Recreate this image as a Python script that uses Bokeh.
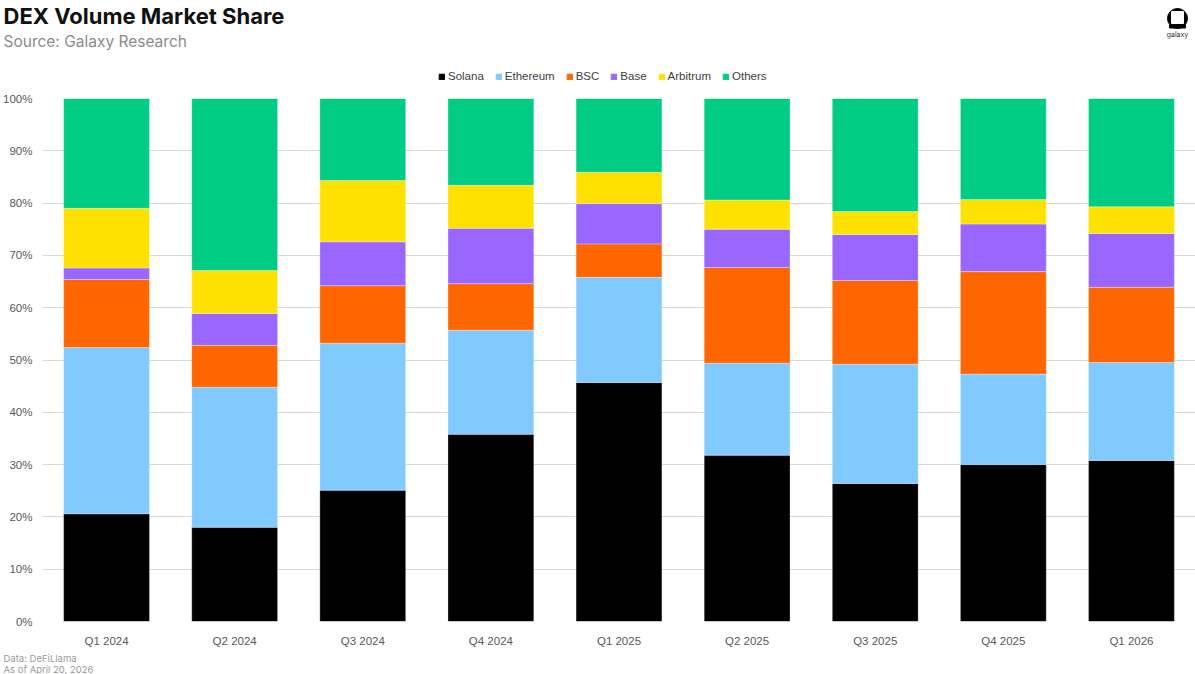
from bokeh.plotting import figure
from bokeh.layouts import column, row
from bokeh.models import Legend, LegendItem, Label, NumeralTickFormatter, FixedTicker, Range1d
from bokeh.embed import file_html
from bokeh.resources import INLINE

quarters = ["Q1 2024", "Q2 2024", "Q3 2024", "Q4 2024", "Q1 2025",
            "Q2 2025", "Q3 2025", "Q4 2025", "Q1 2026"]
solana   = [20.6, 18.0, 25.1, 35.8, 45.7, 31.8, 26.4, 30.0, 30.8]
ethereum = [31.8, 26.8, 28.1, 19.9, 20.1, 17.6, 22.8, 17.3, 18.7]
bsc      = [13.0, 8.0, 11.0, 8.9, 6.4, 18.3, 16.0, 19.6, 14.4]
base     = [2.2, 6.1, 8.4, 10.6, 7.7, 7.3, 8.8, 9.1, 10.3]
arbitrum = [11.4, 8.2, 11.7, 8.2, 6.0, 5.6, 4.4, 4.7, 5.1]
others   = [21.0, 32.9, 15.7, 16.6, 14.1, 19.4, 21.6, 19.3, 20.7]
series_names = ["Solana", "Ethereum", "BSC", "Base", "Arbitrum", "Others"]
colors = ["#000000", "#80CAFF", "#FF6600", "#9966FF", "#FFE100", "#00CC83"]
y_ticks = [0, 10, 20, 30, 40, 50, 60, 70, 80, 90, 100]

W = 1195
HEAD_H, MAIN_H, FOOT_H = 90, 559, 25


def blank(h):
    f = figure(width=W, height=h, x_range=Range1d(0, W), y_range=Range1d(h, 0),
               output_backend="svg", toolbar_location=None,
               x_axis_location=None, y_axis_location=None,
               min_border=0, min_border_left=0, min_border_right=0,
               min_border_top=0, min_border_bottom=0)
    f.grid.visible = False
    f.outline_line_color = None
    return f


# ---------------- header: title, subtitle, legend, logo ----------------
head = blank(HEAD_H)
head.add_layout(Label(x=3, y=15, text="DEX Volume Market Share", text_font="Inter",
                      text_font_size="22px", text_font_style="bold", text_color="#111111",
                      text_baseline="middle"))
head.add_layout(Label(x=3, y=41, text="Source: Galaxy Research", text_font="Inter",
                      text_font_size="15.5px", text_color="#8c8c8c", text_baseline="middle"))

# logo
head.circle(x=[1177], y=[18], radius=10, color="#000000")
head.rect(x=[1177], y=[17], width=12, height=12, color="#ffffff")
head.rect(x=[1177], y=[26], width=16, height=3, color="#000000")
head.add_layout(Label(x=1177, y=34, text="galaxy", text_font="Inter", text_font_size="7px",
                      text_color="#333333", text_align="center", text_baseline="middle"))

nan = float("nan")
dummies = [head.vbar(x=[nan], top=[nan], width=1, color=c) for c in colors]
legend = Legend(items=[LegendItem(label=n, renderers=[r]) for n, r in zip(series_names, dummies)],
                orientation="horizontal", location=(438, 8),
                glyph_width=7, glyph_height=7, label_text_font_size="11.5px",
                label_text_font="Liberation Sans", label_text_color="#404040",
                spacing=11, label_standoff=3, padding=2, margin=0,
                border_line_color=None, background_fill_alpha=0)
head.add_layout(legend, "center")

# ---------------- main chart ----------------
data = {"q": quarters, "Solana": [v / 100 for v in solana],
        "Ethereum": [v / 100 for v in ethereum], "BSC": [v / 100 for v in bsc],
        "Base": [v / 100 for v in base], "Arbitrum": [v / 100 for v in arbitrum],
        "Others": [v / 100 for v in others]}

p = figure(x_range=quarters, y_range=Range1d(0, 1.0), width=W, height=MAIN_H,
           output_backend="svg", toolbar_location=None,
           min_border_left=30, min_border_right=0, min_border_bottom=28, min_border_top=8)
p.x_range.range_padding = 0

p.vbar_stack(series_names, x="q", width=0.67, color=colors, source=data,
             line_color="#ffffff", line_alpha=0.5, line_width=0.6)

p.yaxis.ticker = FixedTicker(ticks=[t / 100 for t in y_ticks])
p.yaxis.formatter = NumeralTickFormatter(format="0%")
for ax in (p.xaxis[0], p.yaxis[0]):
    ax.axis_line_color = None
    ax.major_tick_line_color = None
    ax.minor_tick_line_color = None
    ax.major_label_text_color = "#595959"
    ax.major_label_text_font = "Liberation Sans"
    ax.major_label_text_font_size = "11.5px"
p.xaxis.major_label_standoff = 7
p.yaxis.major_label_standoff = 4
p.xgrid.grid_line_color = None
p.ygrid.grid_line_color = "#d9d9d9"
p.ygrid.grid_line_width = 1
p.outline_line_color = None

# ---------------- footer ----------------
foot = blank(FOOT_H)
foot.add_layout(Label(x=3, y=9, text="Data: DeFiLlama", text_font="Inter",
                      text_font_size="9.5px", text_color="#9a9a9a", text_baseline="middle"))
foot.add_layout(Label(x=3, y=19.5, text="As of April 20, 2026", text_font="Inter",
                      text_font_size="9.5px", text_color="#9a9a9a", text_baseline="middle"))

layout = column(row(head), row(p), row(foot), spacing=0)
open("out.html", "w").write(file_html(layout, INLINE))
